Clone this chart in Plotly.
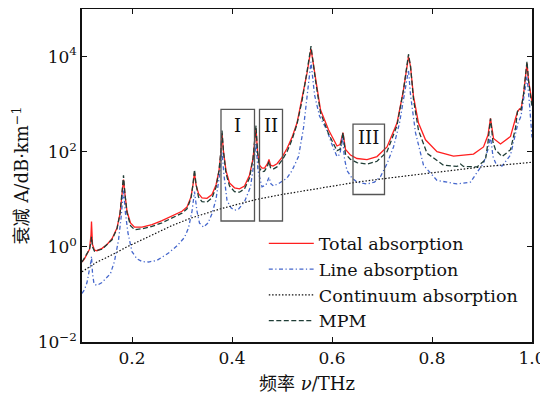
import plotly.graph_objects as go

# ---------------- data ----------------
total_x = [0.1, 0.105, 0.11, 0.115, 0.118, 0.119, 0.121, 0.125, 0.13, 0.14, 0.15, 0.16, 0.17, 0.176,
           0.18, 0.183, 0.186, 0.19, 0.197, 0.205, 0.22, 0.24, 0.26, 0.28, 0.3, 0.31, 0.318, 0.322,
           0.325, 0.328, 0.333, 0.34, 0.35, 0.36, 0.368, 0.374, 0.378, 0.38, 0.383, 0.388, 0.395,
           0.405, 0.415, 0.425, 0.435, 0.442, 0.446, 0.448, 0.451, 0.455, 0.46, 0.465, 0.471, 0.474,
           0.477, 0.482, 0.49, 0.5, 0.51, 0.52, 0.53, 0.54, 0.55, 0.558, 0.567, 0.577, 0.593, 0.61,
           0.616, 0.622, 0.627, 0.637, 0.65, 0.67, 0.69, 0.71, 0.73, 0.743, 0.753, 0.757, 0.763,
           0.773, 0.787, 0.81, 0.843, 0.883, 0.903, 0.912, 0.917, 0.923, 0.937, 0.957, 0.967, 0.971,
           0.975, 0.978, 0.983, 0.99, 0.993, 1.0]
total_y = [0.48, 0.56, 0.71, 0.89, 1.8, 3.4, 1.12, 0.85, 0.83, 0.93, 1.12, 1.48, 2.5, 5.0,
           12.6, 26, 12.6, 5.6, 3.2, 2.6, 2.6, 2.95, 3.55, 4.5, 5.6, 6.9, 11.2, 20,
           36, 20, 13.2, 10.7, 10.5, 12.6, 20, 40, 100, 245, 100, 40, 22,
           17.4, 16.6, 19, 32, 71, 158, 310, 100, 52, 45, 45, 56, 69,
           52, 50, 56, 76, 117, 200, 400, 1230, 4470, 14500, 3240, 760, 290, 132,
           141, 251, 112, 85, 72, 68, 79, 126, 400, 2000, 10000, 6200, 1450,
           400, 178, 100, 81, 89, 126, 224, 500, 190, 145, 209, 500, 690,
           794, 760, 1580, 7240, 3160, 1120]

line_x = [0.1, 0.105, 0.11, 0.115, 0.118, 0.119, 0.121, 0.124, 0.13, 0.14, 0.15, 0.157, 0.165, 0.173,
          0.178, 0.183, 0.187, 0.192, 0.2, 0.21, 0.22, 0.233, 0.25, 0.273, 0.29, 0.305, 0.313, 0.32,
          0.325, 0.33, 0.335, 0.343, 0.352, 0.36, 0.368, 0.375, 0.38, 0.384, 0.39, 0.398, 0.405,
          0.413, 0.425, 0.437, 0.443, 0.448, 0.452, 0.46, 0.468, 0.474, 0.478, 0.483, 0.495, 0.51,
          0.52, 0.533, 0.543, 0.552, 0.558, 0.565, 0.575, 0.59, 0.6, 0.61, 0.616, 0.621, 0.625,
          0.63, 0.64, 0.65, 0.67, 0.685, 0.697, 0.71, 0.723, 0.735, 0.745, 0.753, 0.757, 0.767,
          0.783, 0.81, 0.85, 0.877, 0.903, 0.912, 0.917, 0.922, 0.929, 0.94, 0.957, 0.967, 0.972,
          0.978, 0.985, 0.99, 0.995, 1.0]
line_y = [0.105, 0.126, 0.178, 0.32, 0.5, 0.63, 0.28, 0.166, 0.155, 0.178, 0.224, 0.275, 0.5, 1.38,
          4.0, 15.8, 5.0, 1.95, 0.79, 0.56, 0.49, 0.48, 0.52, 0.74, 1.05, 1.58, 2.5, 5.6,
          14.5, 5.6, 3.16, 2.6, 3.16, 5.0, 10, 32, 100, 32, 9.5, 6.6, 5.9,
          6.2, 8.9, 18.2, 50, 151, 40, 18.2, 20, 29, 21, 19, 22, 28,
          40, 79, 316, 2000, 7760, 1580, 560, 282, 141, 79, 89, 209, 71,
          40, 28, 23, 21, 23, 30, 56, 126, 400, 1580, 5250, 1580, 251,
          52, 25, 21, 23, 58, 112, 209, 79, 52, 50, 85, 251, 400,
          560, 1580, 3800, 1000, 200]

cont_x = [0.1, 0.12, 0.13, 0.15, 0.17, 0.19, 0.22, 0.25, 0.28, 0.317, 0.35, 0.377, 0.42, 0.45,
          0.5, 0.557, 0.65, 0.737, 0.8, 0.9, 1.0]
cont_y = [0.30, 0.40, 0.48, 0.60, 0.79, 1.0, 1.41, 2.0, 2.8, 4.0, 5.2, 6.3, 8.3, 10,
          12.6, 15.8, 23, 30, 36, 48, 60]

mpm_x = [0.1, 0.11, 0.115, 0.118, 0.119, 0.121, 0.125, 0.14, 0.16, 0.17, 0.176, 0.18, 0.183, 0.186,
         0.19, 0.197, 0.205, 0.22, 0.24, 0.26, 0.28, 0.3, 0.31, 0.318, 0.322, 0.325, 0.328, 0.333,
         0.34, 0.35, 0.36, 0.368, 0.374, 0.378, 0.38, 0.383, 0.388, 0.395, 0.405, 0.415, 0.425,
         0.435, 0.442, 0.446, 0.448, 0.451, 0.455, 0.46, 0.465, 0.471, 0.474, 0.477, 0.482, 0.49,
         0.5, 0.51, 0.52, 0.53, 0.54, 0.55, 0.558, 0.567, 0.577, 0.593, 0.61, 0.616, 0.622, 0.627,
         0.637, 0.65, 0.67, 0.69, 0.71, 0.73, 0.743, 0.753, 0.757, 0.763, 0.773, 0.79, 0.823,
         0.85, 0.857, 0.863, 0.89, 0.907, 0.912, 0.917, 0.922, 0.927, 0.94, 0.957, 0.967, 0.971,
         0.975, 0.978, 0.983, 0.99, 0.993, 1.0]
mpm_y = [0.48, 0.71, 0.89, 1.26, 1.62, 1.0, 0.81, 0.89, 1.41, 2.4, 5.0, 14.1, 32, 12.6,
         5.2, 2.8, 2.3, 2.4, 2.7, 3.2, 4.1, 5.1, 6.3, 10.5, 21, 42, 21, 11.2,
         8.9, 8.7, 10.7, 17.8, 40, 112, 280, 100, 35, 19, 14.5, 14.1, 16.6,
         28, 71, 178, 355, 100, 45, 38, 39, 50, 63, 46, 43, 48,
         66, 100, 178, 380, 1170, 4790, 16600, 3160, 660, 240, 105, 112, 251, 89,
         69, 59, 55, 63, 100, 355, 2000, 11200, 6300, 1260, 282, 93, 52,
         49, 55, 49, 48, 68, 158, 500, 158, 110, 79, 110, 316, 708,
         794, 760, 1580, 7940, 3160, 891]

x_ticks = [0.2, 0.4, 0.6, 0.8, 1.0]
x_ticktext = ["0.2", "0.4", "0.6", "0.8", "1.0"]
y_ticks = [1e-2, 1e0, 1e2, 1e4]
y_ticktext = ["10<sup>−2</sup>", "10<sup>0</sup>", "10<sup>2</sup>", "10<sup>4</sup>"]

series_names = ["Total absorption", "Line absorption", "Continuum absorption", "MPM"]

# marked regions I, II, III (data coordinates)
box_x0 = [0.378, 0.455, 0.642]
box_x1 = [0.445, 0.501, 0.705]
box_y0 = [3.5, 3.5, 12.6]
box_y1 = [776, 776, 380]
box_labels = ["I", "II", "III"]
box_label_y = [2.56, 2.56, 2.29]   # log10 positions for annotations

FONT = "DejaVu Serif, Noto Sans CJK SC, serif"

fig = go.Figure()
fig.add_trace(go.Scatter(x=total_x, y=total_y, mode="lines", name=series_names[0],
                         line=dict(color="#ff1f1f", width=1.3)))
fig.add_trace(go.Scatter(x=line_x, y=line_y, mode="lines", name=series_names[1],
                         line=dict(color="#4466cc", width=1.3, dash="4px,2.5px,1.2px,2.5px")))
fig.add_trace(go.Scatter(x=cont_x, y=cont_y, mode="lines", name=series_names[2],
                         line=dict(color="#111111", width=1.2, dash="1.5px,1.8px")))
fig.add_trace(go.Scatter(x=mpm_x, y=mpm_y, mode="lines", name=series_names[3],
                         line=dict(color="#1f3d36", width=1.3, dash="5px,2.5px")))

for i in range(len(box_labels)):
    fig.add_shape(type="rect", xref="x", yref="y", x0=box_x0[i], x1=box_x1[i],
                  y0=box_y0[i], y1=box_y1[i], line=dict(color="#555555", width=1.3))
    fig.add_annotation(x=(box_x0[i] + box_x1[i]) / 2, y=box_label_y[i], xref="x", yref="y",
                       text=box_labels[i], showarrow=False,
                       font=dict(family=FONT, size=18, color="#111111"))

# the page body has an 8px margin, so the figure is sized/offset to compensate
fig.update_layout(
    width=540, height=395,
    margin=dict(l=74, r=16, t=1, b=61),
    paper_bgcolor="white", plot_bgcolor="white",
    font=dict(family=FONT, size=17, color="#111111"),
    showlegend=True,
    legend=dict(x=0.404, y=0.35, xanchor="left", yanchor="top",
                bgcolor="rgba(0,0,0,0)", borderwidth=0,
                font=dict(family=FONT, size=17.5, color="#111111"),
                itemwidth=45, tracegroupgap=0),
    xaxis=dict(range=[0.1, 1.0], tickvals=x_ticks, ticktext=x_ticktext,
               ticks="inside", ticklen=5, tickwidth=1.2, tickcolor="#111",
               showline=True, linecolor="#111", linewidth=1.5, mirror="ticks",
               showgrid=False, zeroline=False, automargin=False,
               title=dict(text="频率 <i>ν</i>/THz", standoff=10,
                          font=dict(family=FONT, size=18))),
    yaxis=dict(type="log", range=[-2, 5], tickvals=y_ticks, ticktext=y_ticktext,
               ticks="inside", ticklen=5, tickwidth=1.2, tickcolor="#111",
               showline=True, linecolor="#111", linewidth=1.5, mirror="ticks",
               showgrid=False, zeroline=False, automargin=False,
               title=dict(text="衰减 A/dB·km<sup>−1</sup>", standoff=4,
                          font=dict(family=FONT, size=18))),
)

fig.write_html("out.html")
